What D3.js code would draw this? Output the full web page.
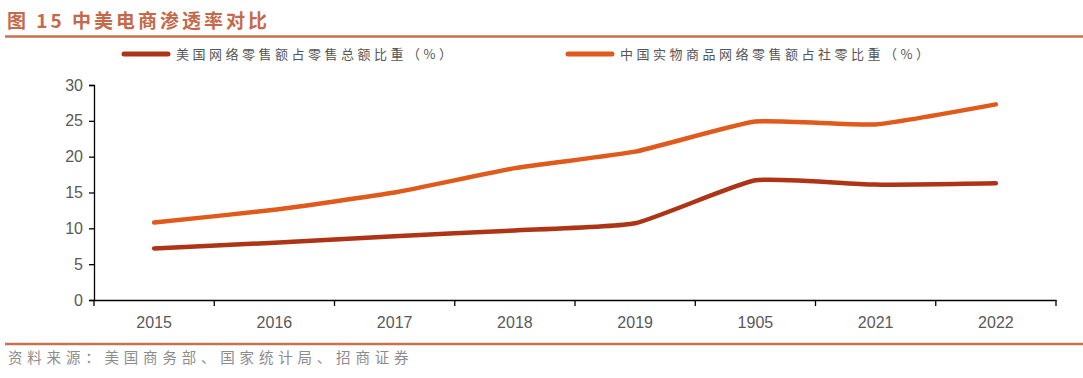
<!DOCTYPE html>
<html><head><meta charset="utf-8">
<script src="https://cdn.jsdelivr.net/npm/d3@7"></script>
<style>
body{margin:0;background:#fff;}
svg{display:block;font-family:"Noto Sans CJK SC","Noto Sans",sans-serif;}
</style></head>
<body>
<script>
const categories = ["2015","2016","2017","2018","2019","1905","2021","2022"];
const usValues = [7.2, 8.0, 8.9, 9.7, 10.7, 16.7, 16.1, 16.3];
const cnValues = [10.8, 12.6, 15.0, 18.4, 20.7, 24.9, 24.5, 27.3];
const yTicks = [0,5,10,15,20,25,30];
const seriesNames = ["美国网络零售额占零售总额比重（%）","中国实物商品网络零售额占社零比重（%）"];
const seriesColors = ["#AE3416","#E05A1C"];
const titleText = "图 15 中美电商渗透率对比";
const sourceText = "资料来源：美国商务部、国家统计局、招商证券";

const W = 1083, H = 378;
const svg = d3.select("body").append("svg").attr("width", W).attr("height", H);

// title
svg.append("text").attr("x", 7).attr("y", 28).text(titleText)
  .attr("font-size", 19).attr("font-weight", "bold").attr("fill", "#C4694A").attr("letter-spacing", 3);
svg.append("line").attr("x1", 5).attr("x2", W).attr("y1", 36.5).attr("y2", 36.5)
  .attr("stroke", "#C8704F").attr("stroke-width", 2.5);
svg.append("line").attr("x1", 5).attr("x2", W).attr("y1", 344).attr("y2", 344)
  .attr("stroke", "#C8704F").attr("stroke-width", 2.5);
svg.append("text").attr("x", 8).attr("y", 363).text(sourceText)
  .attr("font-size", 14.5).attr("fill", "#8C8C8C").attr("letter-spacing", 4.8);

const x = d3.scaleBand().domain(categories).range([94, 1056]);
const y = d3.scaleLinear().domain([0, 30]).range([300, 85]);

const yAxis = svg.append("g").attr("transform", "translate(94,0)")
  .call(d3.axisLeft(y).tickValues(yTicks).tickSize(5).tickPadding(6));
const xAxis = svg.append("g").attr("transform", "translate(0,300)")
  .call(d3.axisBottom(x).tickSize(0).tickPadding(17));
[yAxis, xAxis].forEach(g => {
  g.select(".domain").attr("stroke", "#000").attr("stroke-width", 1.3);
  g.selectAll(".tick line").attr("stroke", "#000").attr("stroke-width", 1.3);
  g.selectAll("text").attr("font-size", 16).attr("fill", "#595959")
    .attr("font-family", "'Liberation Sans', Arial, sans-serif");
});
// category boundary ticks
const bounds = categories.map(c => x(c)).concat([x(categories[categories.length-1]) + x.bandwidth()]);
xAxis.selectAll(".btick").data(bounds).enter().append("line")
  .attr("x1", d => d).attr("x2", d => d).attr("y1", 0).attr("y2", 6)
  .attr("stroke", "#000").attr("stroke-width", 1.3);

const line = d3.line().x((d, i) => x(categories[i]) + x.bandwidth()/2).y(d => y(d))
  .curve(d3.curveCardinal.tension(0.55));
[usValues, cnValues].forEach((vals, k) => {
  svg.append("path").datum(vals).attr("d", line).attr("fill", "none")
    .attr("stroke", seriesColors[k]).attr("stroke-width", 4.5).attr("stroke-linecap", "round");
});

// legend
const legX = [124, 568];
seriesNames.forEach((n, k) => {
  svg.append("line").attr("x1", legX[k]).attr("x2", legX[k] + 44).attr("y1", 54).attr("y2", 54)
    .attr("stroke", seriesColors[k]).attr("stroke-width", 5).attr("stroke-linecap", "round");
  svg.append("text").attr("x", legX[k] + 52).attr("y", 59).text(n)
    .attr("font-size", 13).attr("fill", "#555").attr("letter-spacing", 3.5);
});
</script>
</body></html>
